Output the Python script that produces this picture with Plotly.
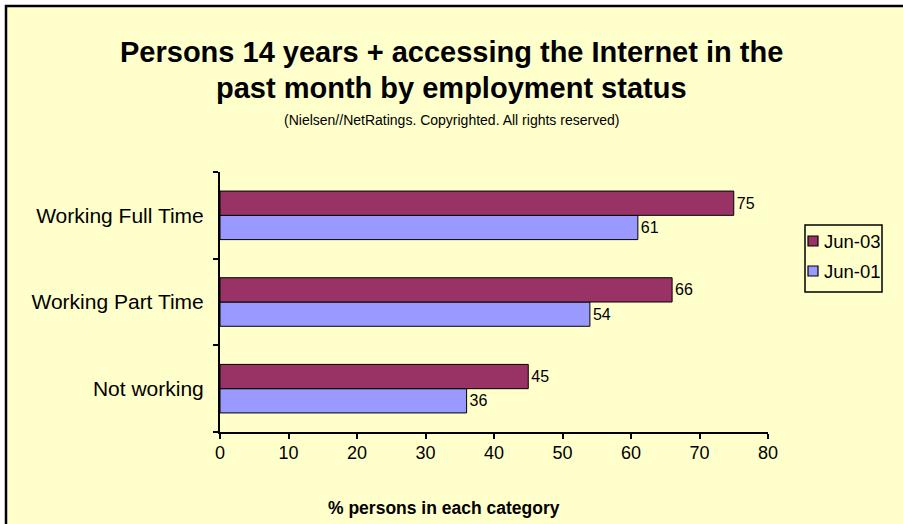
import plotly.graph_objects as go

# Employment categories, listed bottom to top
categories = ["Not working", "Working Part Time", "Working Full Time"]
jun_01 = [36, 54, 61]
jun_03 = [45, 66, 75]
x_ticks = [0, 10, 20, 30, 40, 50, 60, 70, 80]

series = [("Jun-01", jun_01, "#9999FF"), ("Jun-03", jun_03, "#993366")]

W, H = 903, 524
L, R, T, B = 220, 135, 172, 92
pw, ph = W - L - R, H - T - B

def px_x(p):
    return (p - L) / pw

def px_y(p):
    return (H - B - p) / ph

FONT = "Liberation Sans, Arial, sans-serif"

fig = go.Figure()
for name, vals, color in series:
    fig.add_trace(go.Bar(
        y=categories, x=vals, name=name, orientation="h",
        marker=dict(color=color, line=dict(color="black", width=1)),
        text=vals, textposition="outside", cliponaxis=False,
        textfont=dict(size=16, color="black", family=FONT),
        showlegend=False,
    ))

# Chart frame
fig.add_shape(type="rect", xref="paper", yref="paper", layer="below",
              x0=px_x(6), x1=px_x(920), y0=px_y(540), y1=px_y(6),
              fillcolor="#FFFFCC", line=dict(color="black", width=2.5))

# Titles
fig.add_annotation(text="<b>Persons 14 years + accessing the Internet in the</b>",
                   xref="paper", yref="paper", x=px_x(451), y=px_y(52),
                   xanchor="center", yanchor="middle", showarrow=False,
                   font=dict(size=29, color="black", family=FONT))
fig.add_annotation(text="<b>past month by employment status</b>",
                   xref="paper", yref="paper", x=px_x(451), y=px_y(88),
                   xanchor="center", yanchor="middle", showarrow=False,
                   font=dict(size=29, color="black", family=FONT))
fig.add_annotation(text="(Nielsen//NetRatings. Copyrighted. All rights reserved)",
                   xref="paper", yref="paper", x=px_x(451), y=px_y(120),
                   xanchor="center", yanchor="middle", showarrow=False,
                   font=dict(size=14, color="black", family=FONT))
fig.add_annotation(text="<b>% persons in each category</b>",
                   xref="paper", yref="paper", x=px_x(444), y=px_y(508),
                   xanchor="center", yanchor="middle", showarrow=False,
                   font=dict(size=17.5, color="black", family=FONT))

# Legend box with swatches, newest series first
leg_x0, leg_x1, leg_y0, leg_y1 = 805, 882, 225, 292
fig.add_shape(type="rect", xref="paper", yref="paper",
              x0=px_x(leg_x0), x1=px_x(leg_x1), y0=px_y(leg_y1), y1=px_y(leg_y0),
              fillcolor="#FFFFCC", line=dict(color="black", width=1.5))
for i, (name, vals, color) in enumerate(reversed(series)):
    cy = 241 + i * 30
    fig.add_shape(type="rect", xref="paper", yref="paper",
                  x0=px_x(808), x1=px_x(818), y0=px_y(cy + 5), y1=px_y(cy - 5),
                  fillcolor=color, line=dict(color="black", width=1.2))
    fig.add_annotation(text=name, xref="paper", yref="paper",
                       x=px_x(822), y=px_y(cy), xanchor="left", yanchor="middle",
                       showarrow=False,
                       font=dict(size=18.5, color="black", family=FONT))

fig.update_layout(
    width=W, height=H,
    margin=dict(l=L, r=R, t=T, b=B, pad=0, autoexpand=False),
    paper_bgcolor="white", plot_bgcolor="rgba(0,0,0,0)",
    barmode="group", bargap=0.44, bargroupgap=0,
    font=dict(family=FONT, color="black"),
    showlegend=False,
    xaxis=dict(range=[0, 80], tickvals=x_ticks, showgrid=False, zeroline=False,
               showline=True, linecolor="black", linewidth=2,
               ticks="outside", ticklen=5, tickcolor="black", tickwidth=1.5,
               tickfont=dict(size=18), ticklabelstandoff=-2, automargin=False),
    yaxis=dict(type="category", categoryorder="array", categoryarray=categories,
               showgrid=False, showline=True, linecolor="black", linewidth=2,
               ticks="outside", tickson="boundaries", ticklen=5,
               tickcolor="black", tickwidth=1.5,
               tickfont=dict(size=21), ticklabelstandoff=10, automargin=False),
)

fig.write_html("out.html")
